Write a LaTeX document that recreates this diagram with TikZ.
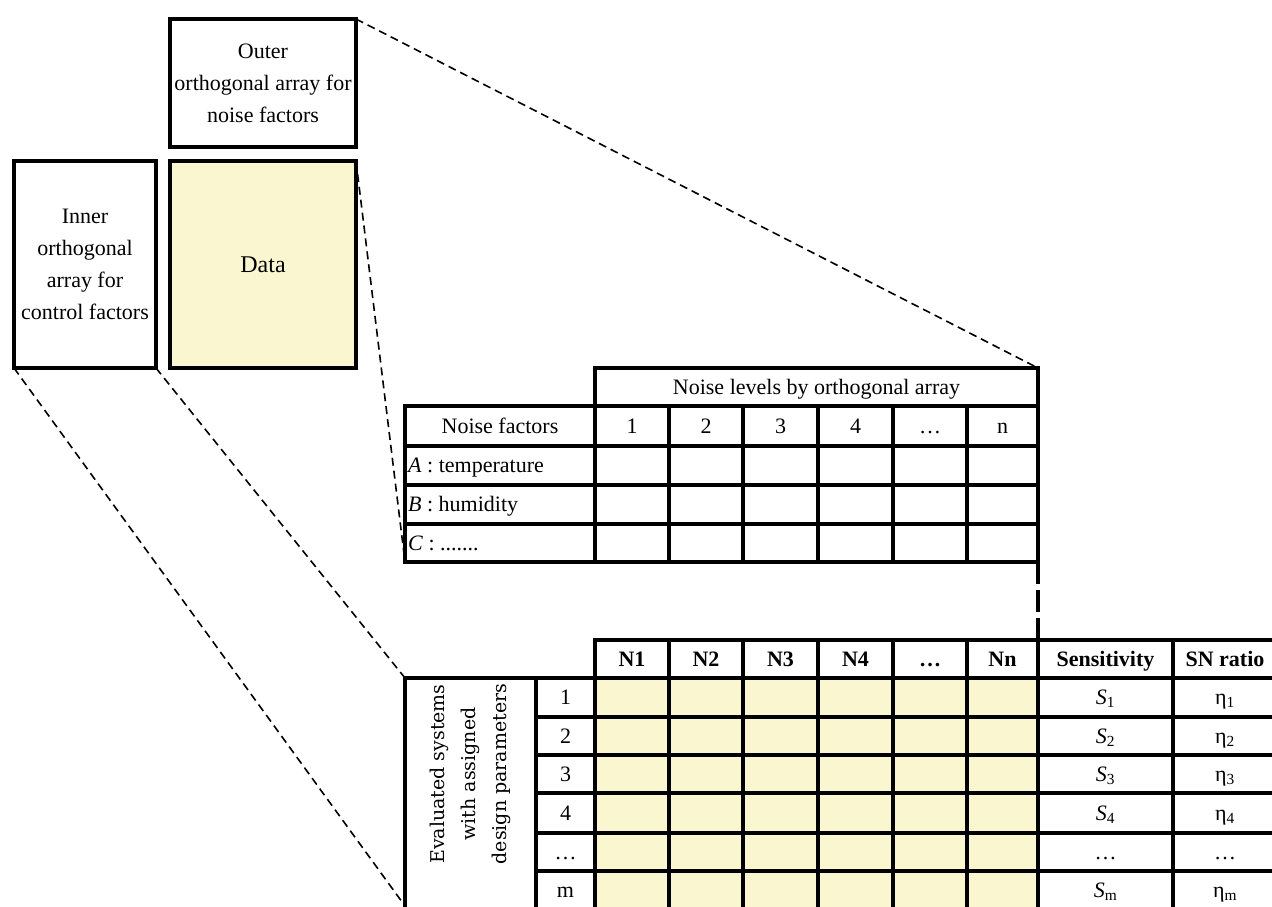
\documentclass[tikz,border=0pt]{standalone}
\usepackage{fontspec}
\setmainfont{Liberation Serif}
\newfontfamily\rotfont{DejaVu Serif}
\definecolor{datayellow}{RGB}{250, 247, 208}
\usetikzlibrary{positioning, calc}

\begin{document}
\begin{tikzpicture}[x=1pt, y=-1pt,
  arraybox/.style={draw, line width=4pt, outer sep=0pt, inner sep=0pt, align=center, font=\fontsize{22}{32}\selectfont},
  grid/.style={line width=4pt, line cap=rect},
  zoomline/.style={dash pattern=on 8pt off 5pt, line width=1.6pt},
  cell/.style={inner sep=0pt, text height=14.5pt, text depth=0pt, font=\fontsize{22}{26}\selectfont},
  hcell/.style={cell, font=\fontsize{22}{26}\selectfont\bfseries}]
  \useasboundingbox (0,0) rectangle (1272,906);
  \clip (0,0) rectangle (1272,906);

  % Outer and inner arrays
  \node[arraybox, minimum width=186pt, minimum height=128pt] (outer) at (263,83) {Outer\\orthogonal array for\\noise factors};
  \node[arraybox, minimum width=142pt, minimum height=207pt] (inner) at (85,264.5) {Inner\\orthogonal\\array for\\control factors};
  \node[arraybox, fill=datayellow, minimum width=186pt, minimum height=207pt, font=\fontsize{24}{28}\selectfont] (data) at (263,264.5) {Data};

  % Noise table
  \coordinate (ut-ne) at (1038,368);
  \coordinate (ut-sw) at (405,562);
  \coordinate (ut-se) at (1038,562);
  \draw[grid] (595,368) rectangle (ut-ne |- 0,406);
  \draw[grid] (405,406) rectangle (ut-se);
  \foreach \y in {446,485,524} \draw[grid] (405,\y) -- (1038,\y);
  \foreach \x in {595,669,743,818,893,967} \draw[grid] (\x,406) -- (\x,562);

  \node[cell] (nlevels) at (816.5,387) {Noise levels by orthogonal array};
  \node[cell] (nfactors) at (500,426) {Noise factors};
  \foreach \x/\t [count=\i] in {632/1, 706/2, 780.5/3, 855.5/4, 930/…, 1002.5/n}
    \node[cell] (lvl\i) at (\x,426) {\t};
  \node[cell, anchor=west] (facA) at (408,465.5) {\textit{A} : temperature};
  \node[cell, anchor=west] (facB) at (408,504.5) {\textit{B} : humidity};
  \node[cell, anchor=west] (facC) at (408,543) {\textit{C} : .......};

  % Result table
  \coordinate (lt-top) at (1038,640);
  \coordinate (lt-nw) at (405,678);
  \coordinate (lt-sw) at (405,906);
  \fill[datayellow] (595,678) rectangle (1038,920);
  \draw[grid] (595,640) rectangle (1300,678);
  \draw[grid] (lt-nw) rectangle (1300,920);
  \foreach \y in {717,755,793,833,871,909} \draw[grid] (536,\y) -- (1300,\y);
  \foreach \x in {595,669,743,818,893,967,1038,1173} \draw[grid] (\x,640) -- (\x,920);
  \draw[grid] (536,678) -- (536,920);

  \foreach \x/\t [count=\i] in {632/N1, 706/N2, 780.5/N3, 855.5/N4, 930/…, 1002.5/Nn, 1105.5/Sensitivity, 1225/SN ratio}
    \node[hcell] (head\i) at (\x,659) {\t};
  \node[rotate=90, align=center, font=\rotfont\fontsize{19}{31}\selectfont] (systems) at (470,774) {Evaluated systems\\with assigned\\design parameters};
  \foreach \y/\n/\s/\e [count=\i] in {697.5/1/\textit{S}\textsubscript{1}/η\textsubscript{1},
      736/2/\textit{S}\textsubscript{2}/η\textsubscript{2},
      774/3/\textit{S}\textsubscript{3}/η\textsubscript{3},
      813/4/\textit{S}\textsubscript{4}/η\textsubscript{4},
      852/…/…/…,
      890/m/\textit{S}\textsubscript{m}/η\textsubscript{m}} {
    \node[cell] (run\i) at (565.5,\y) {\n};
    \node[cell] (sens\i) at (1105.5,\y) {\s};
    \node[cell] (sn\i) at (1225,\y) {\e};
  }

  % Zoom connectors
  \draw[zoomline] (outer.north east) -- (ut-ne);
  \draw[zoomline] (data.north east) -- (ut-sw);
  \draw[zoomline] (inner.south east) -- (lt-nw);
  \draw[zoomline] (inner.south west) -- (lt-sw);
  \draw[grid, line cap=butt, dash pattern=on 22pt off 6pt] (ut-se) -- (lt-top);
\end{tikzpicture}
\end{document}
